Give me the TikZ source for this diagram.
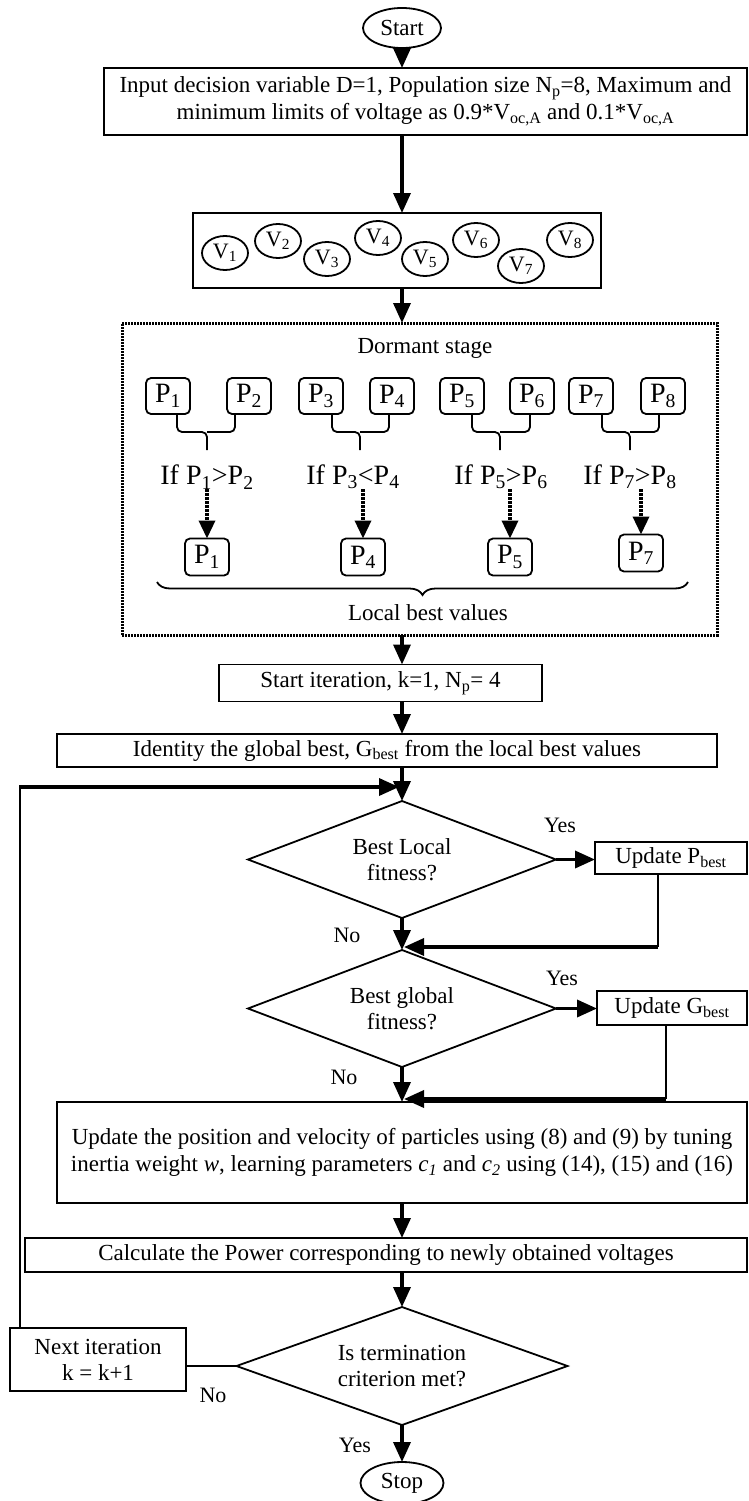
\documentclass[tikz,border=0pt]{standalone}
\usepackage{fontspec}
\setmainfont{Liberation Serif}
\usetikzlibrary{arrows.meta,shapes.geometric,decorations.pathreplacing}
\begin{document}
\begin{tikzpicture}[x=1pt,y=-1pt,
  every node/.style={inner sep=0pt, outer sep=0pt},
  txt/.style={font=\fontsize{23}{26}\selectfont, align=center},
  box/.style={txt, draw, line width=1.8pt, rectangle},
  oval/.style={txt, draw, line width=1.8pt, ellipse},
  vball/.style={draw, line width=1.8pt, ellipse, minimum width=46pt, minimum height=34pt, font=\fontsize{22}{24}\selectfont},
  pbox/.style={draw, line width=1.8pt, rounded corners=5pt, minimum width=44pt, minimum height=36pt, font=\fontsize{28}{30}\selectfont},
  iftxt/.style={font=\fontsize{28}{30}\selectfont},
  dec/.style={txt, draw, line width=1.8pt, diamond, aspect=2.6},
  arr/.style={line width=3.5pt, -{Triangle[length=20pt,width=17pt]}},
  darr/.style={line width=3.5pt, dash pattern=on 2.5pt off 1.5pt, -{Triangle[length=18pt,width=16pt]}},
  thinl/.style={line width=1.3pt},
  brc/.style={line width=1.8pt},
  lbl/.style={font=\fontsize{22}{24}\selectfont},
]
\fill[white] (0,0) rectangle (749,1501);
\useasboundingbox (0,0) rectangle (749,1501);

% top
\node[oval, minimum width=78pt, minimum height=40pt] (start) at (402,28) {Start};
\node[box, minimum width=643pt, minimum height=67pt, font=\fontsize{23}{27}\selectfont] (inp) at (425.5,101.5)
 {Input decision variable D=1, Population size N\textsubscript{p}=8, Maximum and\\minimum limits of voltage as 0.9*V\textsubscript{oc,A} and 0.1*V\textsubscript{oc,A}};
\node[draw, line width=1.8pt, minimum width=408pt, minimum height=75pt] (pop) at (397,250.5) {};
\node[vball] (v1) at (225,253) {V\textsubscript{1}};
\node[vball] (v2) at (278,241) {V\textsubscript{2}};
\node[vball] (v3) at (327,259) {V\textsubscript{3}};
\node[vball] (v4) at (378,238) {V\textsubscript{4}};
\node[vball] (v5) at (425,259) {V\textsubscript{5}};
\node[vball] (v6) at (476,240) {V\textsubscript{6}};
\node[vball] (v7) at (521,266) {V\textsubscript{7}};
\node[vball] (v8) at (570,240) {V\textsubscript{8}};

% dormant stage
\node[draw, line width=3pt, dash pattern=on 2pt off 1pt, minimum width=595pt, minimum height=312pt] (dorm) at (419.5,479) {};
\node[txt] (dst) at (425,348) {Dormant stage};
\node[pbox] (p1) at (168,396) {P\textsubscript{1}};
\node[pbox] (p2) at (249,396) {P\textsubscript{2}};
\node[pbox] (p3) at (321,396) {P\textsubscript{3}};
\node[pbox] (p4) at (392,396) {P\textsubscript{4}};
\node[pbox] (p5) at (462,396) {P\textsubscript{5}};
\node[pbox] (p6) at (532,396) {P\textsubscript{6}};
\node[pbox] (p7) at (591,396) {P\textsubscript{7}};
\node[pbox] (p8) at (663,396) {P\textsubscript{8}};
\draw[brc, rounded corners=5pt] (177,414) |- (207,432) -- (207,450);
\draw[brc, rounded corners=5pt] (235,414) |- (207,432);
\draw[brc, rounded corners=5pt] (332,414) |- (360,432) -- (360,450);
\draw[brc, rounded corners=5pt] (389,414) |- (360,432);
\draw[brc, rounded corners=5pt] (472,414) |- (500,432) -- (500,450);
\draw[brc, rounded corners=5pt] (530,414) |- (500,432);
\draw[brc, rounded corners=5pt] (602,414) |- (630,432) -- (630,450);
\draw[brc, rounded corners=5pt] (659,414) |- (630,432);
\node[iftxt] (if1) at (207,477) {If P\textsubscript{1}>P\textsubscript{2}};
\node[iftxt] (if2) at (353,477) {If P\textsubscript{3}<P\textsubscript{4}};
\node[iftxt] (if3) at (501,477) {If P\textsubscript{5}>P\textsubscript{6}};
\node[iftxt] (if4) at (630,477) {If P\textsubscript{7}>P\textsubscript{8}};
\node[pbox, minimum height=37pt] (q1) at (207,557) {P\textsubscript{1}};
\node[pbox, minimum height=37pt] (q2) at (363,557) {P\textsubscript{4}};
\node[pbox, minimum height=37pt] (q3) at (510,557) {P\textsubscript{5}};
\node[pbox, minimum height=37pt] (q4) at (641,553) {P\textsubscript{7}};
\draw[darr] (if1.south -| q1.north) -- (q1.north);
\draw[darr] (if2.south -| q2.north) -- (q2.north);
\draw[darr] (if3.south -| q3.north) -- (q3.north);
\draw[darr] (if4.south -| q4.north) -- (q4.north);
\coordinate (bl) at (157,582);
\coordinate (br) at (688,582);
\draw[brc, decorate, decoration={brace, mirror, amplitude=13pt}] (bl) -- (br);
\node[txt] (lbv) at (428,613) {Local best values};

% iteration
\node[box, minimum width=323pt, minimum height=37pt] (iter) at (380.5,683) {Start iteration, k=1, N\textsubscript{p}= 4};
\node[box, minimum width=660pt, minimum height=33pt] (ident) at (387,750.5) {Identity the global best, G\textsubscript{best} from the local best values};
\node[dec, minimum width=308pt, minimum height=117pt] (d1) at (402,859.5) {Best Local\\fitness?};
\node[box, minimum width=152pt, minimum height=32pt] (pb) at (671,858) {Update P\textsubscript{best}};
\node[dec, minimum width=308pt, minimum height=117pt] (d2) at (402,1008.5) {Best global\\fitness?};
\node[box, minimum width=150pt, minimum height=34pt] (gb) at (672,1008) {Update G\textsubscript{best}};
\node[box, minimum width=690pt, minimum height=101pt, font=\fontsize{23}{27}\selectfont] (upd) at (402,1152.5)
 {Update the position and velocity of particles using (8) and (9) by tuning\\inertia weight \textit{w}, learning parameters \textit{c\textsubscript{1}} and \textit{c\textsubscript{2}} using (14), (15) and (16)};
\node[box, minimum width=722pt, minimum height=34pt] (calc) at (386,1255) {Calculate the Power corresponding to newly obtained voltages};
\node[dec, minimum width=331pt, minimum height=118pt] (d3) at (402,1366) {Is termination\\criterion met?};
\node[box, minimum width=176pt, minimum height=63pt] (nx) at (98,1359.5) {Next iteration\\k = k+1};
\node[oval, minimum width=83pt, minimum height=42pt] (stop) at (402,1483) {Stop};

% labels
\node[lbl] (y1) at (560,825) {Yes};
\node[lbl] (n1) at (347,935) {No};
\node[lbl] (y2) at (562,978) {Yes};
\node[lbl] (n2) at (344,1077) {No};
\node[lbl] (n3) at (213,1395) {No};
\node[lbl] (y3) at (355,1445) {Yes};

% connectors
\draw[arr] (start.south) -- (inp.north -| start);
\draw[arr] (inp.south -| start) -- (pop.north -| start);
\draw[arr] (pop.south -| start) -- (dorm.north -| start);
\draw[arr] (dorm.south -| start) -- (iter.north -| start);
\draw[arr] (iter.south -| start) -- (ident.north -| start);
\draw[arr] (ident.south -| start) -- (d1.north);
\draw[arr] (d1.south) -- (d2.north);
\draw[arr] (d1.east) -- (d1.east -| pb.west);
\draw[thinl] ([xshift=-13pt]pb.south) -- ++(0,73) coordinate (c1);
\draw[arr] (c1) -- ([xshift=2pt]c1 -| d1.south);
\draw[arr] (d2.south) -- (upd.north -| start);
\draw[arr] (d2.east) -- (d2.east -| gb.west);
\draw[thinl] ([xshift=-6pt]gb.south) -- ++(0,74) coordinate (c2);
\draw[arr] (c2) -- ([xshift=2pt]c2 -| d2.south);
\draw[arr] (upd.south -| start) -- (calc.north -| start);
\draw[arr] (calc.south -| start) -- (d3.north);
\draw[arr] (d3.south) -- (stop.north);
\draw[thinl] (d3.west) -- (d3.west -| nx.east);
\coordinate (lp) at (20,787);
\draw[thinl] (nx.north -| lp) -- (lp);
\draw[arr] ([xshift=-0.6pt]lp) -- ([xshift=-3pt]lp -| d1.north);
\end{tikzpicture}
\end{document}
